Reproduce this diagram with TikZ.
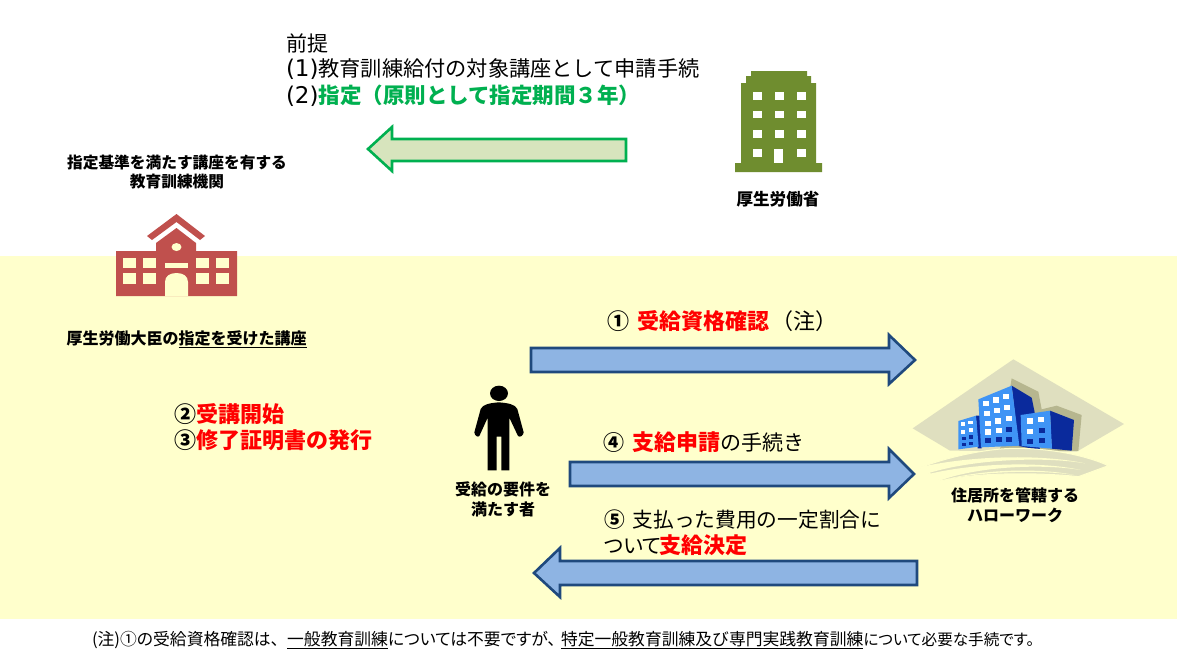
\documentclass[tikz,border=0pt]{standalone}
\usepackage{fontspec}
\setmainfont{Noto Sans CJK JP}
\newfontfamily\latinf{DejaVu Sans}
\definecolor{bandy}{HTML}{FFFFCC}
\definecolor{gov}{HTML}{6F8D2F}
\definecolor{school}{HTML}{C0504D}
\definecolor{okgreen}{HTML}{00B050}
\definecolor{palegreen}{HTML}{D7E4BD}
\definecolor{arrowblue}{HTML}{8EB4E3}
\definecolor{arrowline}{HTML}{1F497D}
\definecolor{sand}{HTML}{DFDFBF}
\definecolor{sanddark}{HTML}{B6B68F}
\definecolor{bldlight}{HTML}{3F94F5}
\definecolor{blddark}{HTML}{0A2A9C}
\newcommand{\fs}[1]{\fontsize{#1}{#1}\selectfont}
\tikzset{x=1pt,y=-1pt,
 lbl/.style={inner sep=0pt,outer sep=0pt,anchor=center,align=center,font=\fs{16}\bfseries,text=black},
 txt/.style={inner sep=0pt,outer sep=0pt,anchor=west,font=\fs{21},text=black},
 blockblue/.style={draw=arrowline,line width=2.6pt,fill=arrowblue,miter limit=10},
 blockgreen/.style={draw=okgreen,line width=2.6pt,fill=palegreen,miter limit=10},
 win/.style={fill=white},
 winy/.style={fill=bandy}}
\newcommand{\rd}[1]{\textcolor{red}{\textbf{#1}}}
\newcommand{\lat}[1]{{\latinf\fs{23}#1}}
\newcommand{\pal}[1]{{\addfontfeature{RawFeature=+palt}#1}}
\begin{document}
\begin{tikzpicture}
\useasboundingbox (0,0) rectangle (1177,665);
\fill[white] (0,0) rectangle (1177,665);
\fill[bandy] (0,256) rectangle (1177,619);

% ministry building
\fill[gov] (751,71)--(807,71)--(807,76)--(811,76)--(811,83)--(816,83)--(816,163)--(822,163)--(822,172)--(735,172)--(735,163)--(741,163)--(741,83)--(746,83)--(746,76)--(751,76)--cycle;
\foreach \cx in {757,779,801}{
 \foreach \ry in {92,110.5,130}{\fill[win] (\cx-4.5,\ry) rectangle (\cx+4.5,\ry+7.5);}}
\fill[win] (752.5,149) rectangle (761.5,157);
\fill[win] (796.5,149) rectangle (805.5,157);
\fill[win] (774,149) rectangle (783,163);

% school
\fill[school] (116,251)--(156,251)--(156,243)--(176.5,228)--(196,243)--(196,251)--(237,251)--(237,296)--(116,296)--cycle;
\fill[school] (176.5,214)--(205,236)--(200,240)--(176.5,222)--(152,240)--(147,236)--cycle;
\fill[bandy] (176.5,247) ellipse (5 and 4);
\foreach \wx in {123,143,196,216}{
 \fill[winy] (\wx,258) rectangle (\wx+13,268);
 \fill[winy] (\wx,273) rectangle (\wx+13,284);}
\fill[winy] (165,263) rectangle (188,268);
\fill[winy] (165,296)--(165,282) .. controls (165,276) and (170,273) .. (176.5,273) .. controls (183,273) and (188,276) .. (188,282)--(188,296)--cycle;

% person
\begin{scope}[shift={(440,375)},scale=1/3]
\fill[black] (177,55) ellipse (27 and 23);
\fill[black] (176,82) .. controls (150,84) and (128,88) .. (122,102) -- (103,172) .. controls (104,182) and (113,188) .. (118,183) -- (143,128) -- (143,286) -- (170,286) -- (170,185) -- (184,185) -- (184,286) -- (208,286) -- (208,128) -- (234,183) .. controls (240,188) and (250,182) .. (251,172) -- (232,102) .. controls (226,88) and (204,84) .. (176,82) -- cycle;
\end{scope}

% job office
\begin{scope}[shift={(900,350)},scale=1/3]
\fill[sand] (38,235)--(340,28)--(672,222)--(530,305)--(150,302)--cycle;
\fill[sanddark] (335,85)--(415,125)--(425,178)--(470,167)--(545,195)--(535,303)--(300,300)--cycle;
\fill[blddark] (228,197)--(242,197)--(245,295)--(233,295)--cycle;
\fill[bldlight] (175,213)--(228,197)--(236,290)--(175,298)--cycle;
\fill[blddark] (335,107)--(395,143)--(403,182)--(420,300)--(356,288)--cycle;
\fill[bldlight] (235,148)--(335,107)--(358,287)--(243,292)--cycle;
\fill[blddark] (450,182)--(522,210)--(515,302)--(455,296)--cycle;
\fill[bldlight] (362,195)--(450,182)--(456,296)--(365,288)--cycle;
\foreach \a/\b in {248/152,279/142,308/132,252/182,283/173,313/165,255/212,286/205,317/198,256/238,287/233}{\fill[white] (\a,\b) rectangle ++(18,16);}
\foreach \a/\b in {318/230,255/264,287/262,318/260}{\fill[blddark] (\a,\b) rectangle ++(18,15);}
\foreach \a/\b in {380/205,414/200,380/236}{\fill[white] (\a,\b) rectangle ++(18,16);}
\foreach \a/\b in {416/233,380/266,416/264}{\fill[blddark] (\a,\b) rectangle ++(18,16);}
\foreach \a/\b in {183/216,205/212,183/240,206/235}{\fill[white] (\a,\b) rectangle ++(13,11);}
\foreach \a/\b in {185/260,207/256,185/278,206/276}{\fill[blddark] (\a,\b) rectangle ++(13,10);}
\end{scope}
\begin{scope}[shift={(910,435)},scale=1/3]
\fill[sand,draw=bandy,line width=1pt] (30,98) .. controls (130,60) and (250,38) .. (330,40) .. controls (430,42) and (530,62) .. (595,92) -- (505,125) .. controls (420,115) and (220,108) .. (95,137) -- cycle;
\fill[bandy] (525,85) .. controls (400,58) and (190,60) .. (27,97) -- (50,116) .. controls (190,72) and (400,64) .. (525,85) -- cycle;
\fill[bandy] (512,105) .. controls (400,80) and (200,82) .. (52,118) -- (92,136) .. controls (210,93) and (400,86) .. (512,105) -- cycle;
\fill[bandy] (492,120) .. controls (400,100) and (220,100) .. (92,137) .. controls (220,106) and (400,105) .. (492,120) -- cycle;
\end{scope}

% block arrows
\draw[blockgreen] (626,139)--(626,161)--(392,161)--(392,171)--(368,149)--(392,127)--(392,139)--cycle;
\draw[blockblue] (531,348)--(889,348)--(889,335)--(915,360)--(889,384)--(889,372)--(531,372)--cycle;
\draw[blockblue] (570,462)--(889,462)--(889,449)--(914,474)--(889,498)--(889,486)--(570,486)--cycle;
\draw[blockblue] (917,561)--(560,561)--(560,548)--(534,573)--(560,597)--(560,585)--(917,585)--cycle;

% texts
\node[txt,font=\fs{21}] (premise) at (286,43) {前提};
\node[txt,font=\fs{21.2}] (step1) at (286,69) {\lat{(1)}教育訓練給付の対象講座として申請手続};
\node[txt,font=\fs{21.5}] (step2) at (286,96) {\lat{(2)}\textcolor{okgreen}{\textbf{指定（原則として指定期間３年）}}};
\node[lbl,font=\fs{15.7}\bfseries] (school1) at (177,172) {指定基準を満たす講座を有する\\[4pt]教育訓練機関};
\node[lbl,font=\fs{16.6}\bfseries] (mhlw) at (778,199) {厚生労働省};
\node[lbl] (course) at (186.5,339) {厚生労働大臣の\underline{指定を受けた講座}};
\node[txt,font=\fs{22}\bfseries,align=left] (s23) at (174,427) {②\textcolor{red}{受講開始}\\[4pt]③\textcolor{red}{修了証明書の発行}};
\node[lbl] (person) at (503,499) {受給の要件を\\[4pt]満たす者};
\node[lbl] (office) at (1015,505) {住居所を管轄する\\[4pt]ハローワーク};
\node[txt,font=\fs{22}] (a1) at (607,321) {\textbf{①}\hspace{8pt}\rd{受給資格確認}\hspace{2pt}（注）};
\node[txt] (a4) at (603,442) {\textbf{④}\hspace{8pt}\rd{\fs{22}支給申請}の手続き};
\node[txt,font=\fs{20.7},align=left] (a5) at (604,533) {\textbf{⑤}\hspace{8pt}支払った費用の一定割合に\\[4pt]\pal{ついて}\hspace{-2pt}\rd{\fs{22}支給決定}};
\node[txt,font=\fs{16.8}] (note) at (92,640) {\pal{(注)①の受給資格確認は、}\hspace{8pt}\underline{一般教育訓練}\pal{については不要ですが、}\hspace{5pt}\underline{特定一般教育訓練及び専門実践教育訓練}{\fs{15.6}\pal{について必要な手続です。}}};
\end{tikzpicture}
\end{document}
